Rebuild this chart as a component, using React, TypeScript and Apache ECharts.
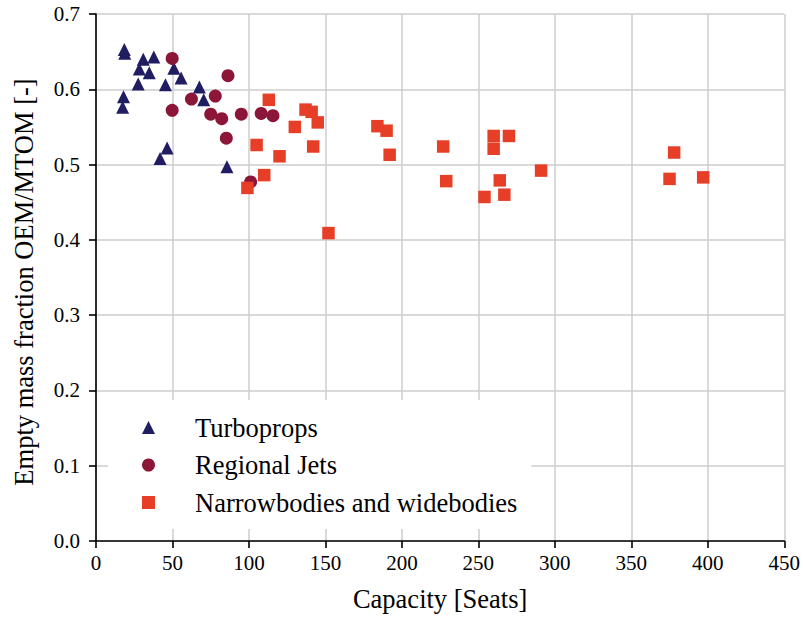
import React, { useEffect, useRef } from "react";
import * as echarts from "echarts";

const turbopropX = [18.5, 18.8, 30.9, 37.8, 28.3, 34.8, 50.9, 55.6, 27.6, 45.4, 67.6, 18.0, 17.4, 70.4, 46.5, 41.9, 85.6];
const turbopropY = [0.653, 0.648, 0.640, 0.643, 0.627, 0.622, 0.628, 0.615, 0.607, 0.606, 0.603, 0.590, 0.576, 0.586, 0.522, 0.508, 0.497];

const regionalX = [49.8, 86.3, 62.4, 78.0, 49.8, 75.0, 82.2, 95.0, 108.0, 115.7, 85.2, 101.1];
const regionalY = [0.641, 0.618, 0.587, 0.591, 0.572, 0.567, 0.561, 0.567, 0.568, 0.565, 0.535, 0.477];

const bodiesX = [113, 137, 141, 145, 130, 105, 142, 120, 110, 99, 152, 184, 190, 192, 227, 229, 260, 270, 260, 291, 264, 254, 267, 378, 375, 397];
const bodiesY = [0.586, 0.573, 0.570, 0.556, 0.550, 0.526, 0.524, 0.511, 0.486, 0.469, 0.409, 0.551, 0.545, 0.513, 0.524, 0.478, 0.538, 0.538, 0.521, 0.492, 0.479, 0.457, 0.460, 0.516, 0.481, 0.483];

const seriesNames = ["Turboprops", "Regional Jets", "Narrowbodies and widebodies"];
const xTicks = { min: 0, max: 450, interval: 50 };
const yTicks = { min: 0, max: 0.7, interval: 0.1 };

const FONT = "Liberation Serif";

function pairs(xs: number[], ys: number[]) {
  return xs.map((x, i) => [x, ys[i]]);
}

export default function App() {
  const ref = useRef<HTMLDivElement>(null);
  useEffect(() => {
    document.body.style.margin = "0";
    if (!ref.current) return;
    const chart = echarts.init(ref.current, null, { renderer: "svg" });
    const axisCommon = {
      axisLine: { show: true, lineStyle: { color: "#000", width: 1.6 } },
      axisTick: { show: true, inside: false, length: 7, lineStyle: { color: "#000", width: 1.6 } },
      splitLine: { show: true, lineStyle: { color: "#cccccc", width: 1.5 } },
      nameLocation: "middle" as const,
    };
    chart.setOption({
      animation: false,
      backgroundColor: "#fff",
      grid: { left: 96, right: 17, top: 14, bottom: 76, containLabel: false },
      xAxis: {
        type: "value",
        ...axisCommon,
        min: xTicks.min,
        max: xTicks.max,
        interval: xTicks.interval,
        name: "Capacity [Seats]",
        nameGap: 44,
        nameTextStyle: { fontFamily: FONT, fontSize: 26.5, color: "#000" },
        axisLabel: { fontFamily: FONT, fontSize: 21, color: "#000", margin: 11 },
      },
      yAxis: {
        type: "value",
        ...axisCommon,
        min: yTicks.min,
        max: yTicks.max,
        interval: yTicks.interval,
        name: "Empty mass fraction OEM/MTOM [-]",
        nameGap: 59,
        nameTextStyle: { fontFamily: FONT, fontSize: 26.5, color: "#000", padding: [0, 9, 0, 0] },
        axisLabel: {
          fontFamily: FONT,
          fontSize: 21,
          color: "#000",
          margin: 16,
          formatter: (v: number) => v.toFixed(1),
        },
      },
      legend: {
        orient: "vertical",
        left: 108,
        top: 400,
        backgroundColor: "#fff",
        padding: [14, 14, 13, 34],
        itemWidth: 13,
        itemHeight: 13,
        itemGap: 10.5,
        textStyle: { fontFamily: FONT, fontSize: 26.5, color: "#000", padding: [0, 0, 0, 35] },
        data: [
          { name: seriesNames[0], icon: "triangle" },
          { name: seriesNames[1], icon: "circle" },
          { name: seriesNames[2], icon: "rect" },
        ],
      },
      series: [
        {
          name: seriesNames[0],
          type: "scatter",
          symbol: "triangle",
          symbolSize: 13,
          itemStyle: { color: "#211d62", opacity: 1 },
          data: pairs(turbopropX, turbopropY),
        },
        {
          name: seriesNames[1],
          type: "scatter",
          symbol: "circle",
          symbolSize: 13,
          itemStyle: { color: "#8b1637", opacity: 1 },
          data: pairs(regionalX, regionalY),
        },
        {
          name: seriesNames[2],
          type: "scatter",
          symbol: "rect",
          symbolSize: 12.5,
          itemStyle: { color: "#e73f27", opacity: 1 },
          data: pairs(bodiesX, bodiesY),
        },
      ],
    });
    return () => chart.dispose();
  }, []);
  return <div ref={ref} style={{ width: 803, height: 617 }} />;
}
